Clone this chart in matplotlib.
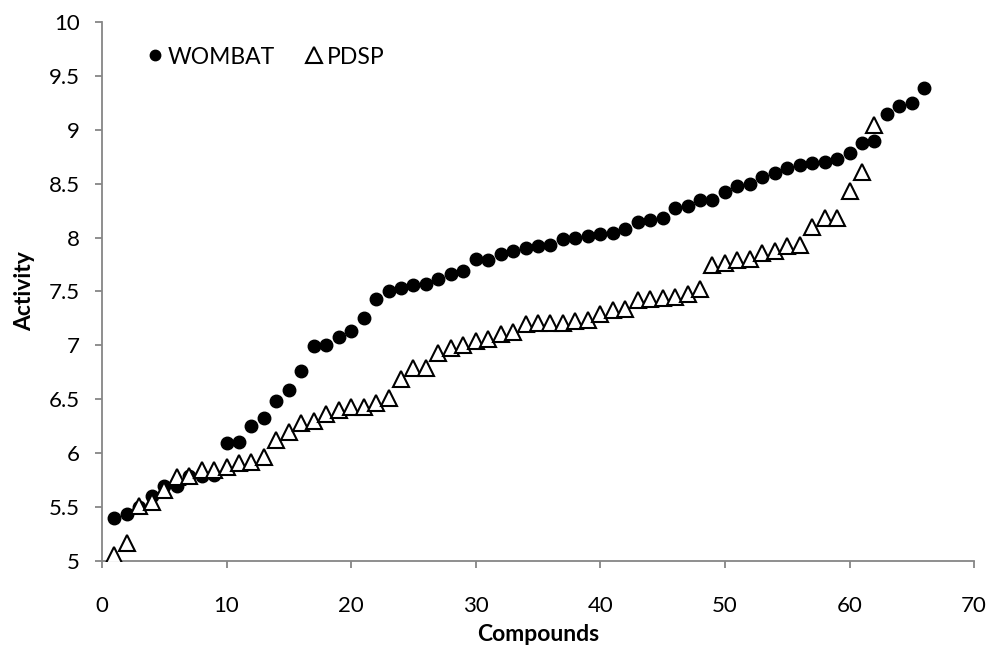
import numpy as np
import matplotlib.pyplot as plt

plt.rcParams['font.family'] = ['Lato', 'DejaVu Sans']

# activity values, compounds sorted by activity
wombat = [5.40, 5.44, 5.50, 5.60, 5.70, 5.70, 5.79, 5.79, 5.80, 6.09,
          6.10, 6.25, 6.33, 6.48, 6.59, 6.76, 6.99, 7.00, 7.08, 7.13,
          7.25, 7.43, 7.50, 7.53, 7.56, 7.57, 7.62, 7.66, 7.69, 7.80,
          7.79, 7.85, 7.88, 7.90, 7.92, 7.93, 7.99, 8.00, 8.01, 8.03,
          8.04, 8.08, 8.14, 8.16, 8.18, 8.27, 8.29, 8.35, 8.35, 8.42,
          8.48, 8.50, 8.56, 8.60, 8.65, 8.67, 8.69, 8.70, 8.73, 8.78,
          8.88, 8.90, 9.15, 9.22, 9.25, 9.39]
pdsp = [5.06, 5.17, 5.51, 5.55, 5.66, 5.78, 5.79, 5.84, 5.84, 5.87,
        5.91, 5.92, 5.96, 6.12, 6.20, 6.28, 6.30, 6.36, 6.40, 6.43,
        6.43, 6.47, 6.51, 6.69, 6.79, 6.79, 6.93, 6.98, 7.00, 7.04,
        7.06, 7.11, 7.12, 7.20, 7.21, 7.21, 7.21, 7.23, 7.24, 7.29,
        7.33, 7.34, 7.42, 7.43, 7.44, 7.45, 7.48, 7.52, 7.75, 7.76,
        7.79, 7.80, 7.86, 7.88, 7.92, 7.93, 8.10, 8.18, 8.18, 8.43,
        8.61, 9.04]

x_w = np.arange(1, len(wombat) + 1)
x_p = np.arange(1, len(pdsp) + 1)

fig = plt.figure(figsize=(9.96, 6.52), dpi=100)
ax = fig.add_axes([0.1024, 0.1396, 0.8756, 0.8267])

ax.plot(x_w, wombat, 'o', color='black', ms=9, label='WOMBAT', zorder=2)
ax.plot(x_p, pdsp, '^', mfc='white', mec='black', mew=1.5, ms=11.5,
        label='PDSP', zorder=3)

ax.set_xlim(0, 70)
ax.set_ylim(5, 10)
ax.set_xticks(np.arange(0, 71, 10))
ax.set_yticks(np.arange(5, 10.01, 0.5))
ax.set_yticklabels(['5', '5.5', '6', '6.5', '7', '7.5', '8', '8.5',
                    '9', '9.5', '10'])

for s in ['top', 'right']:
    ax.spines[s].set_visible(False)
for s in ['left', 'bottom']:
    ax.spines[s].set_color('#868686')
    ax.spines[s].set_linewidth(1.3)
ax.tick_params(direction='out', length=5, width=1.3, color='#868686',
               labelsize=16)
ax.tick_params(axis='x', pad=20)
ax.tick_params(axis='y', pad=11)

ax.set_xlabel('Compounds', fontsize=16.5, fontweight='bold', labelpad=6)
ax.set_ylabel('Activity', fontsize=16.5, fontweight='bold', labelpad=10)

leg = ax.legend(loc='center left', bbox_to_anchor=(0.0476, 0.935), ncol=2,
                frameon=False, fontsize=16.5, borderpad=0, borderaxespad=0,
                handletextpad=0.07, columnspacing=1.2, handlelength=1.0)
leg.legend_handles[0].set_markersize(7.5)
leg.legend_handles[1].set_markersize(12)

fig.savefig('out.png', dpi=100)
